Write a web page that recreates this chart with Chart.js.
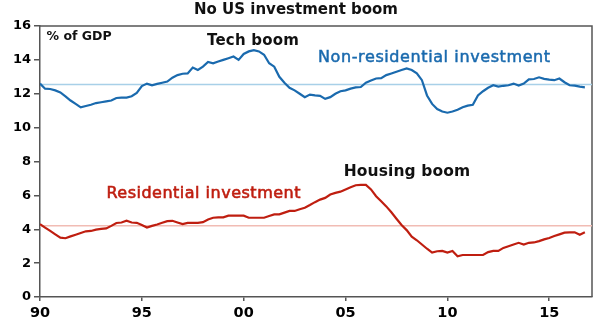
<!DOCTYPE html>
<html><head><meta charset="utf-8">
<script src="https://cdn.jsdelivr.net/npm/chart.js@4.4.1/dist/chart.umd.min.js"></script>
<style>html,body{margin:0;padding:0;background:#fff}</style>
</head><body>
<canvas id="c" width="596" height="327"></canvas>
<script>
// ---- data (quarterly, 1990Q1 .. 2016Q4), % of GDP ----
const startYear = 1990;
const xTickYears = [1990, 1995, 2000, 2005, 2010, 2015];
const yTickValues = [0, 2, 4, 6, 8, 10, 12, 14, 16];
const nonResidential = [
  12.6, 12.3, 12.28, 12.2,
  12.08, 11.85, 11.6, 11.4,
  11.2, 11.28, 11.35, 11.45,
  11.5, 11.55, 11.6, 11.75,
  11.77, 11.77, 11.85, 12.05,
  12.45, 12.6, 12.5, 12.58,
  12.65, 12.72, 12.95, 13.1,
  13.18, 13.2, 13.55, 13.4,
  13.6, 13.88, 13.8, 13.9,
  14.0, 14.1, 14.2, 14.0,
  14.35, 14.5, 14.57, 14.5,
  14.3, 13.8, 13.6, 13.0,
  12.65, 12.35, 12.2, 12.0,
  11.8, 11.95, 11.9, 11.88,
  11.7, 11.8, 12.0, 12.15,
  12.2, 12.3, 12.38, 12.4,
  12.65, 12.78, 12.9, 12.92,
  13.1, 13.2, 13.3, 13.4,
  13.5, 13.4, 13.2, 12.8,
  11.9, 11.4, 11.1, 10.95,
  10.88, 10.95, 11.05, 11.2,
  11.3, 11.35, 11.9, 12.15,
  12.35, 12.5, 12.42, 12.47,
  12.5, 12.6, 12.48, 12.6,
  12.85, 12.87, 12.97, 12.88,
  12.83, 12.8, 12.9, 12.68,
  12.5, 12.48, 12.42, 12.38
];
const residential = [
  4.3, 4.1, 3.9, 3.7,
  3.5, 3.47, 3.58, 3.68,
  3.78, 3.88, 3.9, 3.98,
  4.02, 4.05, 4.2, 4.37,
  4.4, 4.5, 4.4, 4.38,
  4.25, 4.1, 4.2, 4.28,
  4.38, 4.48, 4.5, 4.4,
  4.3, 4.38, 4.38, 4.38,
  4.42, 4.58, 4.68, 4.7,
  4.7, 4.8, 4.8, 4.8,
  4.8, 4.68, 4.68, 4.68,
  4.68, 4.78, 4.88, 4.88,
  4.98, 5.08, 5.08, 5.18,
  5.27, 5.43, 5.6, 5.75,
  5.85, 6.05, 6.15, 6.22,
  6.35, 6.48, 6.6, 6.62,
  6.62, 6.35, 5.95, 5.65,
  5.35, 5.0, 4.62, 4.25,
  3.95, 3.56, 3.35, 3.1,
  2.85, 2.62, 2.7, 2.72,
  2.62, 2.72, 2.4, 2.48,
  2.48, 2.48, 2.48, 2.48,
  2.65, 2.72, 2.72, 2.9,
  3.0, 3.1, 3.2, 3.1,
  3.2, 3.22, 3.3, 3.4,
  3.48, 3.6, 3.7, 3.8,
  3.82, 3.82, 3.68, 3.82
];
const nonResidentialAverage = 12.55;
const residentialAverage = 4.2;
const xRange = [1990, 2017.1];

// ---- build library data from the arrays ----
const toPoints = arr => arr.map((v, i) => ({ x: startYear + i / 4, y: v }));
const flat = v => xRange.map(x => ({ x, y: v }));

const BLUE = '#1a6aae';
const RED = '#bf1e10';
const FONT = "'DejaVu Sans', sans-serif";

const annotations = [
  { text: '% of GDP', x: 1990.32, y: 15.38, color: '#111', font: `bold 12.5px ${FONT}`, sp: 0, stroke: 0 },
  { text: 'Tech boom', x: 1998.2, y: 15.12, color: '#111', font: `bold 15px ${FONT}`, sp: 0.2, stroke: 0 },
  { text: 'Non-residential investment', x: 2003.65, y: 14.11, color: BLUE, font: `16px ${FONT}`, sp: 0.6, stroke: 0.5 },
  { text: 'Residential investment', x: 1993.26, y: 6.11, color: RED, font: `16px ${FONT}`, sp: 0.5, stroke: 0.6 },
  { text: 'Housing boom', x: 2004.91, y: 7.39, color: '#111', font: `bold 15.5px ${FONT}`, sp: 0.1, stroke: 0 }
];

const annotationPlugin = {
  id: 'annot',
  beforeDatasetsDraw(chart) {
    const { ctx, chartArea: a } = chart;
    ctx.save();
    ctx.strokeStyle = '#555';
    ctx.lineWidth = 1.5;
    ctx.beginPath();
    ctx.moveTo(a.left, a.top); ctx.lineTo(a.right, a.top); ctx.lineTo(a.right, a.bottom);
    ctx.stroke();
    ctx.restore();
  },
  afterDatasetsDraw(chart) {
    const { ctx, scales } = chart;
    ctx.save();
    ctx.textAlign = 'left';
    ctx.textBaseline = 'middle';
    for (const an of annotations) {
      ctx.font = an.font;
      ctx.fillStyle = an.color;
      try { ctx.letterSpacing = an.sp + 'px'; } catch (e) {}
      const px = scales.x.getPixelForValue(an.x), py = scales.y.getPixelForValue(an.y);
      ctx.fillText(an.text, px, py);
      if (an.stroke) {
        ctx.strokeStyle = an.color;
        ctx.lineWidth = an.stroke;
        ctx.strokeText(an.text, px, py);
      }
    }
    try { ctx.letterSpacing = '0px'; } catch (e) {}
    ctx.restore();
  }
};

Chart.defaults.font.family = FONT;
Chart.defaults.color = '#000';

new Chart(document.getElementById('c'), {
  type: 'line',
  data: {
    datasets: [
      { label: 'Non-residential investment', data: toPoints(nonResidential), borderColor: BLUE, borderWidth: 2.2, pointRadius: 0, tension: 0, order: 1 },
      { label: 'Residential investment', data: toPoints(residential), borderColor: RED, borderWidth: 2.2, pointRadius: 0, tension: 0, order: 2 },
      { label: 'Non-residential average', data: flat(nonResidentialAverage), borderColor: '#a8d0e8', borderWidth: 1.5, pointRadius: 0, order: 3 },
      { label: 'Residential average', data: flat(residentialAverage), borderColor: '#f1bcb4', borderWidth: 1.5, pointRadius: 0, order: 4 }
    ]
  },
  options: {
    responsive: false,
    animation: false,
    devicePixelRatio: 1,
    layout: { padding: { left: 0, right: 4, top: 0, bottom: 0 } },
    plugins: {
      legend: { display: false },
      tooltip: { enabled: false },
      title: {
        display: true,
        text: 'No US investment boom',
        color: '#111',
        font: { family: FONT, size: 15, weight: 'bold', lineHeight: 1.2 },
        padding: { top: 1, bottom: 7 }
      }
    },
    scales: {
      x: {
        type: 'linear',
        min: xRange[0], max: xRange[1],
        afterBuildTicks: s => { s.ticks = xTickYears.map(v => ({ value: v })); },
        afterFit: s => { s.height = 30; },
        grid: { display: true, drawOnChartArea: false, drawTicks: true, tickLength: 4, color: '#555', lineWidth: 1.5 },
        border: { display: true, color: '#555', width: 1.5 },
        ticks: {
          padding: 4,
          maxRotation: 0,
          autoSkip: false,
          font: { size: 14.5, weight: 'bold' },
          callback: v => String(v % 100).padStart(2, '0')
        }
      },
      y: {
        min: 0, max: 16,
        afterBuildTicks: s => { s.ticks = yTickValues.map(v => ({ value: v })); },
        afterFit: s => { s.width = 40; },
        grid: { display: true, drawOnChartArea: false, drawTicks: true, tickLength: 6, color: '#555', lineWidth: 1.5 },
        border: { display: true, color: '#555', width: 1.5 },
        ticks: { padding: 3, font: { size: 13, weight: 'bold' } }
      }
    }
  },
  plugins: [annotationPlugin]
});
</script>
</body></html>
